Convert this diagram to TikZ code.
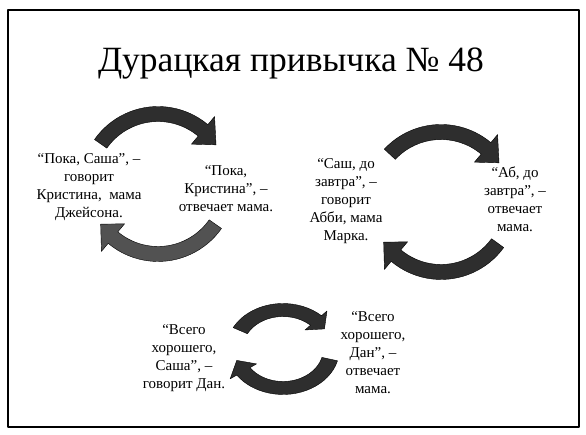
\documentclass[tikz,border=0pt]{standalone}
\usepackage{fontspec}
\setmainfont{Liberation Serif}
\definecolor{Adark}{RGB}{46,46,46}
\definecolor{Alight}{RGB}{82,82,82}

\begin{document}
\begin{tikzpicture}[x=1pt,y=1pt,line join=round,
  said/.style={align=center,inner sep=0pt,font=\fontsize{15}{18}\selectfont},
  darrow/.style={fill=Adark,draw=black,line width=0.4pt},
  larrow/.style={fill=Alight,draw=black,line width=0.4pt}]
\path[use as bounding box,fill=white] (0,0) rectangle (586,435);
\draw[line width=1.4pt] (8,8) rectangle (579,425);
\node[font=\fontsize{35.5}{40}\selectfont] (title) at (291,371) {Дурацкая привычка № 48};
% first pair
\coordinate (c1) at (158,251);
\begin{scope}[shift={(c1)}]
\path[darrow] (145:77.5) arc[start angle=145,end angle=50,radius=77.5] -- (50:88) -- (34:70) -- (50:52) -- (50:62.5) arc[start angle=50,end angle=145,radius=62.5] -- cycle;
\path[larrow] (-35:77.5) arc[start angle=-35,end angle=-130,radius=77.5] -- (-130:88) -- (-145:70) -- (-130:52) -- (-130:62.5) arc[start angle=-130,end angle=-35,radius=62.5] -- cycle;
\end{scope}
\node[said] (kristina) at (89,248) {“Пока, Саша”, –\\говорит\\Кристина,~ мама\\Джейсона.};
\node[said] (mom1) at (226,246) {“Пока,\\Кристина”, –\\отвечает мама.};
% second pair
\coordinate (c2) at (441,233);
\begin{scope}[shift={(c2)}]
\path[darrow] (137:77.5) arc[start angle=137,end angle=50,radius=77.5] -- (50:88) -- (34:70) -- (50:52) -- (50:62.5) arc[start angle=50,end angle=137,radius=62.5] -- cycle;
\path[darrow] (-36:77.5) arc[start angle=-36,end angle=-130,radius=77.5] -- (-130:88) -- (-145:70) -- (-130:52) -- (-130:62.5) arc[start angle=-130,end angle=-36,radius=62.5] -- cycle;
\end{scope}
\node[said] (abbi) at (346,234) {“Саш, до\\завтра”, –\\говорит\\Абби, мама\\Марка.};
\node[said] (mom2) at (515,236) {“Аб, до\\завтра”, –\\отвечает\\мама.};
% third pair
\coordinate (c3) at (283,86);
\begin{scope}[shift={(c3)},xscale=1.24]
\path[darrow] (152:45.5) arc[start angle=152,end angle=47,radius=45.5] -- (47:52) -- (31:39) -- (47:26) -- (47:32.5) arc[start angle=47,end angle=152,radius=32.5] -- cycle;
\path[darrow] (-15:45.5) arc[start angle=-15,end angle=-145,radius=45.5] -- (-145:52) -- (-163:39) -- (-145:26) -- (-145:32.5) arc[start angle=-145,end angle=-15,radius=32.5] -- cycle;
\end{scope}
\node[said] (dan) at (184,77) {“Всего\\хорошего,\\Саша”, –\\говорит Дан.};
\node[said] (mom3) at (373,82) {“Всего\\хорошего,\\Дан”, –\\отвечает\\мама.};
\end{tikzpicture}
\end{document}
